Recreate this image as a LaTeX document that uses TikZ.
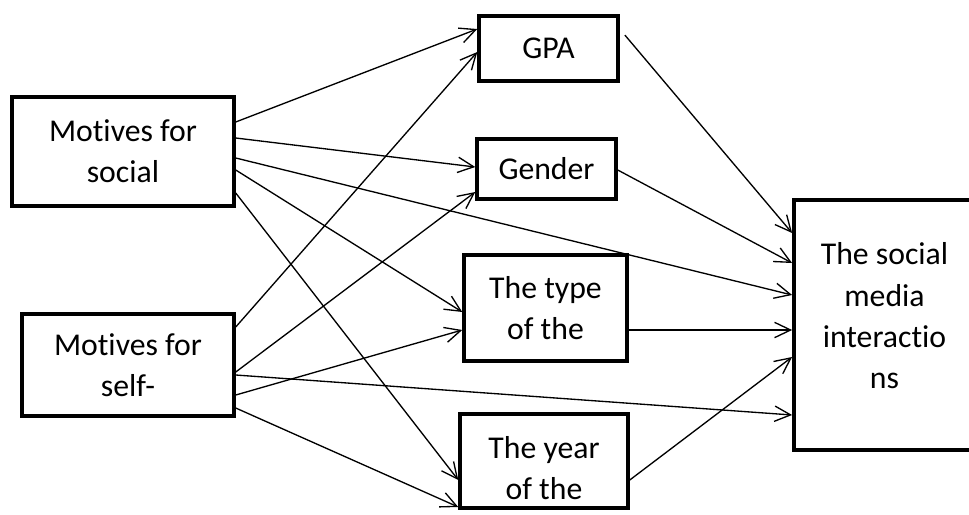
\documentclass[tikz,border=0pt]{standalone}
\usepackage{fontspec}
\setmainfont{Carlito}[Ligatures=NoCommon]
\usepackage{tikz}
\usetikzlibrary{arrows.meta}

\begin{document}
\begin{tikzpicture}[x=0.75pt,y=-0.75pt,
  box/.style={draw,line width=2.6pt,inner sep=0pt,align=center,
    font=\fontsize{23.8}{30.9}\selectfont},
  link/.style={line width=1pt,-{Straight Barb[length=12pt,width=11.5pt,line width=1pt]}}]
  % Frame
  \clip (0,0) rectangle (969,514);
  % Boxes
  \node[box,minimum width=166.5pt,minimum height=81.75pt] (social) at (123,151.5) {Motives for\\social};
  \node[box,minimum width=159pt,minimum height=76.5pt] (self) at (128,365) {Motives for\\self-};
  \node[box,minimum width=104.25pt,minimum height=48.75pt] (gpa) at (548.5,48.5) {GPA};
  \node[box,minimum width=104.25pt,minimum height=45pt] (gender) at (546.5,169) {Gender};
  \node[box,minimum width=122.25pt,minimum height=79.5pt] (type) at (545.5,308) {The type\\of the};
  \node[box,minimum width=126pt,minimum height=70.5pt] (year) at (544,461) {\rule{0pt}{27pt}The year\\of the};
  \node[box,minimum width=136pt,minimum height=187.5pt,text depth=14pt] (media) at (884.5,325) {The social\\media\\interactio\\ns};
  % Arrows from motives for social
  \draw[link] (social.east |- 0,122) -- (gpa.west |- 0,29);
  \draw[link] (social.east |- 0,138) -- (gender.west |- 0,167);
  \draw[link] (social.east |- 0,158) -- (media.west |- 0,295);
  \draw[link] (social.east |- 0,170) -- (type.west |- 0,312);
  \draw[link] (social.east |- 0,193) -- (year.west |- 0,480);
  % Arrows from motives for self-
  \draw[link] (self.east |- 0,327) -- (gpa.west |- 0,52);
  \draw[link] (self.east |- 0,372) -- (gender.west |- 0,192);
  \draw[link] (self.east |- 0,375) -- (media.west |- 0,415);
  \draw[link] (self.east |- 0,395) -- (type.west |- 0,330);
  \draw[link] (self.east |- 0,408) -- (year.west |- 0,507);
  % Arrows into social media interactions
  \draw[link,shorten <=6pt] (gpa.east |- 0,29) -- (media.west |- 0,233);
  \draw[link] (gender.east |- 0,170) -- (media.west |- 0,263);
  \draw[link] (type.east |- 0,330) -- (media.west |- 0,330);
  \draw[link] (year.east |- 0,480) -- (media.west |- 0,357);
\end{tikzpicture}
\end{document}
